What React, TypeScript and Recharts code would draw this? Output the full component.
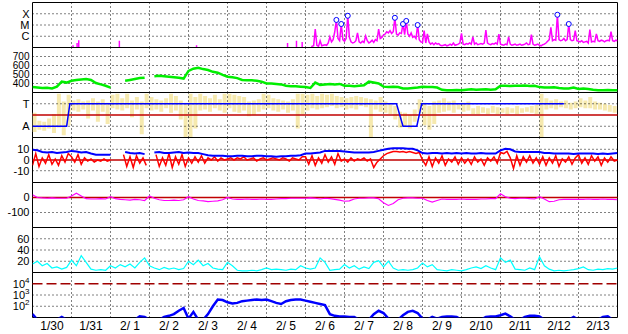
import React from 'react';
import { ComposedChart, Line, Bar, Scatter, XAxis, YAxis, ReferenceLine, ReferenceArea } from 'recharts';

// ---------------- data ----------------
const dayLabels = ['1/30', '1/31', '2/ 1', '2/ 2', '2/ 3', '2/ 4', '2/ 5', '2/ 6', '2/ 7', '2/ 8', '2/ 9', '2/10', '2/11', '2/12', '2/13'];
const HOURS = 360;

// X-ray flux (log10 W/m2), hourly from hour 168
const xrayStart = 168;
const xrayLog = [
  -7.5, -7.5, -7.5, -7.5, -6.9, -6.85, -5.36, -6.8, -6.9, -6.4, -6.85, -6.8,
  -6.75, -6.8, -6.6, -6.06, -6.5, -6.3, -5.6, -4.55, -6.2, -6.4, -4.91, -6.3,
  -6.45, -6.2, -4.18, -6.1, -6.5, -6.6, -6.55, -6.4, -5.7, -6.5, -6.6, -6.45,
  -6.55, -5.97, -6.4, -6.6, -6.5, -6.35, -6.55, -6.3, -6.4, -5.36, -6.2, -6.1,
  -5.9, -5.8, -5.6, -5.7, -5.5, -5.75, -5.6, -4.36, -5.8, -5.9, -5.7, -5.75,
  -4.91, -5.85, -4.64, -5.8, -6.0, -5.7, -6.1, -6.0, -6.2, -5.0, -6.3, -6.5,
  -6.55, -5.5, -6.6, -5.8, -6.5, -6.7, -6.6, -6.75, -6.6, -6.7, -6.65, -6.8,
  -6.85, -6.8, -6.75, -6.85, -6.8, -6.7, -6.8, -6.6, -6.8, -6.75, -6.7, -6.6,
  -5.75, -6.7, -6.75, -6.65, -6.7, -6.6, -6.7, -6.05, -6.7, -6.6, -6.75, -6.7,
  -6.65, -6.7, -6.6, -5.45, -6.6, -6.7, -6.75, -6.65, -6.7, -6.6, -6.7, -5.8,
  -6.7, -6.75, -6.8, -6.7, -6.75, -6.06, -6.7, -6.8, -6.75, -6.7, -6.8, -6.75,
  -6.7, -6.8, -6.75, -6.7, -6.6, -6.75, -6.7, -5.85, -6.7, -6.8, -6.75, -6.7,
  -6.8, -6.85, -6.75, -6.7, -6.6, -6.45, -6.3, -5.2, -6.4, -6.3, -6.35, -4.09,
  -6.3, -6.4, -6.35, -6.2, -6.4, -6.3, -4.91, -6.3, -6.4, -6.35, -5.5, -6.4,
  -6.45, -6.5, -6.4, -6.55, -6.5, -6.45, -6.6, -5.4, -6.5, -6.45, -6.5, -5.8,
  -6.4, -6.45, -6.35, -6.4, -6.5, -6.4, -6.35, -6.4, -5.6, -6.4, -6.45, -6.35,
  -6.4,
];
const xrayFloor = -7.5;
const earlyFlareHours = [17, 25, 27.5, 28.5, 53.5, 101, 157, 162.5, 166];
const earlyFlarePeaks = [-7.0, -6.8, -6.6, -6.35, -6.4, -6.8, -6.6, -6.4, -6.5];
const flareHours = [187, 190, 194, 223, 228, 230, 237, 323, 330];
const flarePeaks = [-4.55, -4.91, -4.18, -4.36, -4.91, -4.64, -5.0, -4.09, -4.91];
const flareClassTicks = [-4, -5, -6];
const flareClassLabels = ['X', 'M', 'C'];

// Solar wind speed, 3-hourly
const speed = [
  360, 355, 350, 352, 345, 365, 420, 410,
  430, 440, 445, 450, 440, 405, 390, 375,
  355, null, null, 430, 440, 450, 460, 465,
  null, 480, 485, 480, 475, 470, 465, 455,
  540, 565, 575, 560, 550, 530, 520, 495,
  475, 470, 460, 440, 435, 435, 430, 420,
  400, 400, 395, 390, 375, 370, 370, 365,
  360, 350, 410, 385, 390, 395, 390, 395,
  375, 375, 370, 375, 380, 420, 410, 400,
  365, 360, 365, 360, 345, 345, 350, 355,
  365, 360, 360, 355, 330, 325, 325, 328,
  325, 330, 335, 330, 332, 335, 330, 335,
  375, 375, 372, 375, 375, 378, 372, 375,
  360, 355, 355, 358, 350, 345, 345, 355,
  340, 345, 340, 330, 325, 325, 327, 325,
  325,
];
const speedTicks = [400, 500, 600, 700];

// IMF direction spread (3-hour bins) and sector polarity
const imfLow = [
  -1.5, -1.3, -1.4, -1.2, -1.6, -1.1, -1.8, -0.9, 0.4, 0.3,
  0.5, -0.3, 0.4, -0.6, 0.3, -0.8, 0.6, 0.5, 0.4, 0.6,
  -0.2, 0.5, -1.7, 0.6, 0.4, 0.5, 0.3, 0.6, 0.2, 0.4,
  -0.4, -2, -2, -1.2, 0.4, 0.5, 0.3, 0.6, 0.4, 0.2,
  0.6, 0.3, 0.2, 0.4, -0.1, 0.0, 0.3, 0.5, 0.6, 0.4,
  0.3, 0.5, 0.2, 0.4, -1.2, 0.1, 0.4, 0.6, 0.5, 0.6,
  0.7, 0.8, 0.6, 0.7, 0.5, 0.6, 0.5, 0.8, 0.7, -2,
  0.5, 0.3, 0.2, 0.1, -0.4, -1.1, -1.0, -1.2, -0.6, 0.2,
  -0.9, -1.3, -0.8, 0.2, 0.3, 0.4, 0.2, 0.5, 0.3, 0.4,
  0.1, 0.1, 0.2, 0.1, 0.2, 0.1, 0.2, 0.1, 0.2, 0.1,
  0.2, 0.3, 0.2, 0.1, -2, 0.5, 0.6, 0.5, 0.7, 0.6,
  0.5, 0.6, 0.7, 0.6, 0.6, 0.5, 0.5, 0.4, 0.3, 0.2,
];
const imfHigh = [
  0.2, -0.5, -0.6, -0.3, 0.1, 1.9, 1.2, 1.8, 1.3, 1.4,
  1.2, 1.3, 1.5, 1.2, 1.4, 1.1, 1.8, 1.9, 1.5, 1.9,
  1.3, 1.6, 1.2, 1.9, 1.6, 1.4, 1.3, 1.5, 1.9, 1.7,
  1.3, 1.1, 1.9, 1.6, 1.9, 1.7, 1.5, 1.8, 1.4, 1.9,
  1.9, 1.8, 1.7, 1.6, 1.2, 1.3, 1.4, 1.9, 1.8, 1.5,
  1.4, 1.3, 1.2, 1.4, 1.9, 1.9, 1.8, 1.9, 1.7, 1.9,
  1.8, 1.9, 1.7, 1.6, 1.5, 1.6, 1.7, 1.6, 1.5, 1.4,
  1.3, 1.6, 1.2, 1.0, 0.8, 0.3, 0.2, 0.0, 0.5, 1.4,
  1.1, 0.8, 1.2, 1.3, 1.5, 1.2, 1.3, 1.0, 1.1, 1.2,
  0.6, 0.8, 0.7, 0.6, 0.8, 0.7, 0.6, 0.7, 0.6, 0.8,
  0.6, 0.7, 0.8, 0.9, 1.9, 1.5, 1.3, 1.4, 1.2, 1.3,
  1.1, 1.2, 1.5, 1.3, 1.6, 1.2, 1.1, 1.0, 0.9, 0.8,
];
const sectorHours = [0, 21, 23, 224, 228, 236.5, 239.5, 327];
const sectorValues = [-1, -1, 1, 1, -1, -1, 1, 1];
const sectorTicks = [1, -1];
const sectorLabels = ['T', 'A'];

// IMF Bt (3-hourly) and Bz (2-hourly)
const bt = [
  9.5, 9, 7.5, 7, 7.5, 6.5, 7, 7.5,
  8.5, 8, 7, 7.5, 6, 5, 5, 5,
  5, null, null, 7.5, 6.5, 6, 6.5, 5.5,
  null, 7, 7.5, 6.5, 6.5, 7, 7.5, 6.5,
  7, 6.5, 6.5, 5.5, 4.5, 4, 4, 4,
  3.5, 3.5, 4, 4, 3.5, 3.5, 4, 4,
  3.5, 3.5, 3, 3.5, 3.5, 4, 4, 4.5,
  6, 6, 6.5, 7, 8.5, 8.5, 8.5, 8.5,
  8, 7.5, 7, 7, 7, 7, 7.5, 8.5,
  9.5, 10.5, 11, 11, 11, 10.5, 10.5, 9,
  6.5, 6, 6.5, 6.5, 6, 6.5, 6, 6.5,
  6, 6.5, 6, 6, 6.5, 6, 6, 6,
  9, 10.5, 10, 8, 7.5, 7.5, 7.5, 7.5,
  7.5, 6.5, 6.5, 6, 6, 6, 6, 5.5,
  6, 6, 6, 6, 5.5, 6, 5.5, 6,
  6.5,
];
const bz = [
  -5, 6, -6, 2, -3, 5, -4, 1, -5, 4, -2, 6,
  3, -2, 5, -4, 2, -1, 1, -2, 0, -1, 1, -1,
  0, null, null, null,
  5, -6, 3, -7, 4, -3, 2, -5,
  null, null,
  5, -6, 2, -5, 6, -7, 3, -4, 5, -6, 2, -3,
  3, -2, 4, -3, 2, 0, 3, -1, 2, 0,
  1, 2, 0, 2, 1, 3, 0, 1, 2, -1, 1, 2, 0, 1, 2, 1, 0, 2, 1, -1, 2, 1, 0, 3,
  3, -4, 4, -5, 2, -3, 5, -2, 3, -4, 6, -1,
  1, -2, 2, -1, 1, 0, 2, -1, 1, -7, -2, 1,
  4, 6, 7, 8, 8, 7.5, 8, 7, 8, 7, 6, 7,
  0, -5, 3, -6, 2, -3, 4, -5, 1, -2, 3, -4,
  2, -3, 1, -4, 3, -2, 1, -5, 2, -1, 3, -3,
  7, 6, 8, 2, -8, 4, -5, 3, -2, 4, -3, 2,
  -4, 3, -5, 2, -3, 4, -6, 1, -2, 3, -4, 2,
  5, -3, 2, -4, 4, -1, 3, -5, 2, -2, 3, -1,
  0,
];
const imfTicks = [10, 0, -10];

// Dst index, 3-hourly
const dst = [
  18, 0, -3, -5, -3, -5, -5, -5,
  10, 28, 10, -8, -10, -10, -8, -10,
  5, -8, -12, -15, -18, -12, -15, -20,
  10, -5, -15, -20, -20, -18, -20, -15,
  5, -10, -20, -22, -28, -25, -22, -15,
  0, -10, -12, -12, -10, -12, -12, -10,
  -12, -12, -10, -8, -8, -5, -5, -5,
  -5, -3, -5, -10, -5, -8, -12, -18,
  -25, -22, -10, -5, -5, -3, -2, -8,
  -35, -53, -40, -15, -5, -3, -3, -5,
  -5, -20, -30, -20, -10, -12, -12, -12,
  -10, -12, -13, -12, -10, -10, -8, -8,
  25, 5, -5, -8, -5, -5, -8, -10,
  5, -10, -28, -25, -15, -12, -12, -13,
  -12, -12, -10, -12, -12, -10, -12, -13,
  -15,
];
const dstTicks = [0, -100];

// Proton density, 3-hourly
const density = [
  15, 20, 12, 16, 8, 10, 6, 9,
  22, 12, 30, 18, 6, 4, 5, 4,
  12, 8, 14, 10, 15, 8, 18, 26,
  12, 8, 5, 9, 6, 8, 5, 7,
  20, 14, 22, 12, 16, 8, 6, 5,
  18, 12, 4, 3, 3, 4, 3, 5,
  8, 5, 6, 5, 4, 6, 5, 12,
  8, 6, 8, 26, 18, 4, 5, 6,
  14, 8, 12, 6, 10, 7, 18, 21,
  10, 20, 8, 4, 5, 4, 5, 8,
  17, 10, 14, 5, 4, 3, 5, 4,
  3, 5, 8, 10, 7, 12, 8, 5,
  26, 18, 22, 6, 5, 4, 8, 5,
  28, 12, 6, 3, 4, 3, 4, 5,
  7, 10, 5, 4, 6, 5, 7, 6,
  8,
];
const densityTicks = [20, 40, 60];

// >2 MeV electron flux (log10), 3-hourly
const electrons = [
  1.3, 0.8, 0.8, 0.8, 0.8, 0.8, 1.05, 0.8,
  0.8, 0.8, 0.8, 0.8, 0.8, 0.8, 0.8, 0.8,
  0.8, 0.8, 0.8, 0.8, 0.8, 0.8, 1.1, 1.05,
  0.8, 0.8, 0.8, 1.05, 1.15, 1.3, 1.6, 1.85,
  0.9, 1.5, 0.8, 0.8, 1.3, 2.0, 2.6, 2.55,
  2.35, 2.25, 2.3, 2.45, 2.5, 2.55, 2.6, 2.55,
  2.6, 2.45, 2.3, 2.2, 2.45, 2.55, 2.6, 2.6,
  2.5, 2.4, 2.3, 2.2, 2.1, 1.3, 1.15, 1.1,
  1.1, 1.05, 1.05, 0.8, 0.8, 0.8, 1.3, 1.6,
  1.4, 0.9, 0.8, 0.8, 1.2, 1.5, 1.6, 1.4,
  0.9, 0.8, 1.05, 0.9, 1.05, 1.1, 1.1, 1.05,
  0.8, 0.8, 0.8, 0.8, 0.8, 1.05, 1.1, 1.1,
  1.2, 1.35, 1.1, 0.8, 0.8, 1.05, 1.15, 1.15,
  1.1, 0.8, 0.8, 0.8, 0.8, 0.8, 0.8, 1.05,
  0.8, 0.8, 0.8, 0.8, 0.8, 1.05, 1.1, 0.8,
  0.8,
];
const electronTicks = [4, 3, 2];
const electronAlert = 4;

// ---------------- tables built from data ----------------
const toRows = (vals: (number | null)[], step: number, start = 0) => vals.map((v, i) => ({ t: start + i * step, v }));
const xrayRows = toRows(xrayLog, 1, xrayStart);
const earlyRows = earlyFlareHours.map((t, i) => ({ t, r: [xrayFloor, earlyFlarePeaks[i]] }));
const flareRows = flareHours.map((t, i) => ({ t, v: flarePeaks[i] }));
const speedRows = toRows(speed, 3);
const imfRows = imfLow.map((lo, i) => ({ t: i * 3 + 1.5, r: [lo, imfHigh[i]] }));
const sectorRows = sectorHours.map((t, i) => ({ t, v: sectorValues[i] }));
const btRows = toRows(bt, 3);
const bzRows = toRows(bz, 2);
const dstRows = toRows(dst, 3);
const densityRows = toRows(density, 3);
const electronRows = toRows(electrons, 3);
const labelTicks = dayLabels.map((_, i) => i * 24 + 12);
const dayBounds = dayLabels.slice(1).map((_, i) => (i + 1) * 24);

// ---------------- layout / style ----------------
const FONT = '"Liberation Sans", Arial, Helvetica, sans-serif';
const W = 628;
const YAXIS_W = 32.5;
const RIGHT_M = 10.5;
const PANEL_H = 45;
const TOPS = [2, 47, 92, 137, 182, 227, 272];
const DOT = '1 3';
const tickStyle = { fontSize: 11, fill: '#000', fontFamily: FONT };

const FlareMark = (p: any) => <circle cx={p.cx} cy={p.cy} r={2.5} fill="#fff" stroke="#0000ff" strokeWidth={1} />;

const PowTick = (p: any) => (
  <text x={p.x} y={p.y} dy={4} textAnchor="end" fontSize={11} fontFamily={FONT} fill="#000">
    10<tspan dy={-5} fontSize={8}>{p.payload.value}</tspan>
  </text>
);

type PanelProps = {
  top: number;
  data?: any[];
  domain: [number, number];
  yTicks?: number[];
  yFmt?: (v: number) => string;
  yTick?: any;
  grid?: number[];
  base?: boolean;
  showX?: boolean;
  children?: React.ReactNode;
};

function Panel({ top, data, domain, yTicks = [], yFmt, yTick, grid = [], base = true, showX = false, children }: PanelProps) {
  const xh = showX ? 16 : 0;
  const h = 0.5 + PANEL_H + xh + 0.5;
  return (
    <div style={{ position: 'absolute', left: 0, top, width: W, height: h }}>
      <ComposedChart width={W} height={h} data={data} margin={{ top: 0.5, right: RIGHT_M, bottom: 0.5, left: 0 }}>
        <XAxis
          dataKey="t"
          type="number"
          domain={[0, HOURS]}
          allowDataOverflow
          hide={!showX}
          height={showX ? xh : 0}
          ticks={labelTicks}
          interval={0}
          tickFormatter={(v: number) => dayLabels[Math.round((v - 12) / 24)]}
          axisLine={false}
          tickLine={false}
          tickSize={0}
          tickMargin={4}
          tick={{ ...tickStyle, fontSize: 12 }}
        />
        <YAxis
          type="number"
          domain={domain}
          allowDataOverflow
          width={YAXIS_W}
          ticks={yTicks}
          interval={0}
          tickFormatter={yFmt}
          tick={base ? (yTick || tickStyle) : false}
          axisLine={false}
          tickLine={false}
          tickSize={0}
          tickMargin={3}
        />
        {base && dayBounds.map((x) => <ReferenceLine key={'v' + x} x={x} stroke="#000" strokeDasharray={DOT} />)}
        {base && grid.map((y) => <ReferenceLine key={'h' + y} y={y} stroke="#000" strokeDasharray={DOT} />)}
        {children}
        {base && (
          <ReferenceArea x1={0} x2={HOURS} y1={domain[0]} y2={domain[1]} fill="none" fillOpacity={0} stroke="#000" strokeWidth={1} ifOverflow="visible" />
        )}
      </ComposedChart>
    </div>
  );
}

export default function App() {
  return (
    <div style={{ position: 'absolute', left: 0, top: 0, width: W, height: 334, overflow: 'hidden', background: '#fff' }}>
      {/* X-ray flares */}
      <Panel top={TOPS[0]} data={xrayRows} domain={[-7, -3]} yTicks={flareClassTicks} yFmt={(v) => flareClassLabels[flareClassTicks.indexOf(v)]} grid={flareClassTicks}>
        <Line dataKey="v" stroke="#ff00ff" strokeWidth={1.5} dot={false} isAnimationActive={false} />
        <Scatter data={flareRows} dataKey="v" shape={FlareMark} isAnimationActive={false} />
      </Panel>
      <Panel top={TOPS[0]} data={earlyRows} domain={[-7, -3]} base={false}>
        <Bar dataKey="r" fill="#ff00ff" barSize={2} isAnimationActive={false} />
      </Panel>

      {/* Solar wind speed */}
      <Panel top={TOPS[1]} data={speedRows} domain={[300, 800]} yTicks={speedTicks} grid={speedTicks} yTick={{ ...tickStyle, fontSize: 10 }}>
        <Line dataKey="v" stroke="#00ee00" strokeWidth={2.5} dot={false} isAnimationActive={false} />
      </Panel>

      {/* IMF sector */}
      <Panel top={TOPS[2]} data={imfRows} domain={[-2, 2]} yTicks={sectorTicks} yFmt={(v) => sectorLabels[sectorTicks.indexOf(v)]} grid={sectorTicks}>
        <Bar dataKey="r" fill="#f6e9ae" barSize={4} isAnimationActive={false} />
        <ReferenceLine y={0} stroke="#c00000" strokeWidth={1.5} />
      </Panel>
      <Panel top={TOPS[2]} data={sectorRows} domain={[-2, 2]} base={false}>
        <Line dataKey="v" stroke="#0000ff" strokeWidth={1.5} dot={false} isAnimationActive={false} />
      </Panel>

      {/* IMF Bt / Bz */}
      <Panel top={TOPS[3]} data={bzRows} domain={[-21, 21]} yTicks={imfTicks} grid={[10, -10]}>
        <ReferenceLine y={0} stroke="#c00000" strokeWidth={1.5} />
        <Line dataKey="v" stroke="#ff0000" strokeWidth={1.5} dot={false} isAnimationActive={false} />
      </Panel>
      <Panel top={TOPS[3]} data={btRows} domain={[-21, 21]} base={false}>
        <Line dataKey="v" stroke="#0000ff" strokeWidth={2} dot={false} isAnimationActive={false} />
      </Panel>

      {/* Dst */}
      <Panel top={TOPS[4]} data={dstRows} domain={[-200, 100]} yTicks={dstTicks} grid={[-100]}>
        <ReferenceLine y={0} stroke="#c00000" strokeWidth={1.5} />
        <Line dataKey="v" stroke="#ff00ff" strokeWidth={1.2} dot={false} isAnimationActive={false} />
      </Panel>

      {/* Density */}
      <Panel top={TOPS[5]} data={densityRows} domain={[0, 80]} yTicks={densityTicks} grid={densityTicks}>
        <Line dataKey="v" stroke="#00ffff" strokeWidth={1.2} dot={false} isAnimationActive={false} />
      </Panel>

      {/* Electrons */}
      <Panel top={TOPS[6]} data={electronRows} domain={[1, 5]} yTicks={electronTicks} yTick={<PowTick />} grid={[3, 2]} showX>
        <ReferenceLine y={electronAlert} stroke="#a00000" strokeWidth={1.5} strokeDasharray="10 4" />
        <Line dataKey="v" stroke="#0000ff" strokeWidth={2.5} dot={false} isAnimationActive={false} />
      </Panel>
    </div>
  );
}
